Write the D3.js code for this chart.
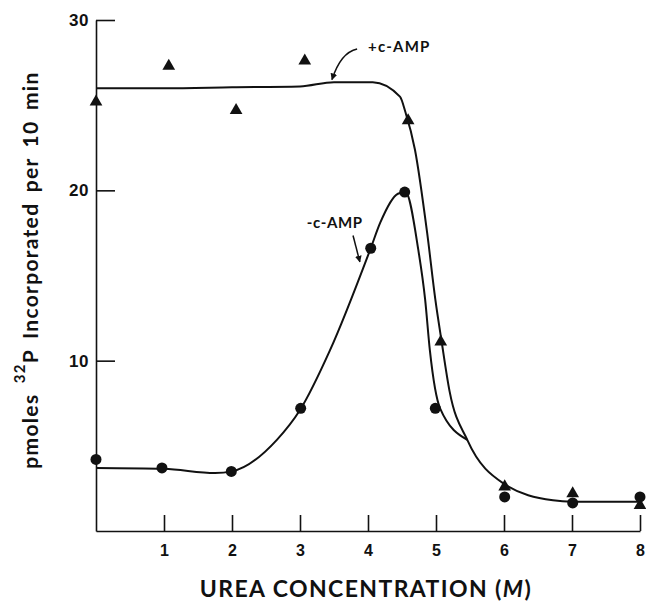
<!DOCTYPE html>
<html>
<head>
<meta charset="utf-8">
<script src="https://cdn.jsdelivr.net/npm/d3@7"></script>
<style>
  body { margin: 0; background: #fff; }
  svg { display: block; font-family: Lato, "DejaVu Sans", sans-serif; }
</style>
</head>
<body>
<div id="chart"></div>
<script>
// urea concentration (M) and pmoles 32P incorporated per 10 min
var plusX  = [0, 1.07, 2.06, 3.07, 4.59, 5.07, 6.01, 7.01, 8];
var plusY  = [25.2, 27.3, 24.7, 27.6, 24.1, 11.1, 2.6, 2.2, 1.5];
var minusX = [0, 0.97, 1.99, 3.01, 4.04, 4.54, 4.99, 6.01, 7.01, 8];
var minusY = [4.2, 3.7, 3.5, 7.2, 16.6, 19.9, 7.2, 2.0, 1.65, 2.0];

// hand drawn fitted curves
var plusFitX  = [0, 1, 2, 3, 3.5, 4.07, 4.47, 4.55, 4.69, 4.87, 4.99, 5.08, 5.2, 5.46, 5.99, 6.72, 7, 8];
var plusFitY  = [26.0, 26.0, 26.05, 26.1, 26.35, 26.35, 25.5, 24.6, 22.4, 17.5, 13.6, 11.2, 8.2, 5.35, 2.8, 1.8, 1.72, 1.72];
var minusFitX = [0, 1, 1.75, 2, 2.66, 3, 3.44, 4.04, 4.18, 4.44, 4.55, 4.74, 4.84, 4.91, 5.06, 5.46];
var minusFitY = [3.7, 3.65, 3.4, 3.5, 5.35, 7.1, 10.6, 16.6, 18.1, 19.8, 19.9, 16.5, 13.6, 10.6, 7.2, 5.35];

var xTicks = [1, 2, 3, 4, 5, 6, 7, 8];
var yTicks = [10, 20, 30];

var width = 646, height = 602;
var x0 = 96, x1 = 640, yTop = 20, yBase = 531;

var svg = d3.select("#chart").append("svg")
    .attr("width", width)
    .attr("height", height);

var x = d3.scaleLinear().domain([0, 8]).range([x0, x1]);
var y = d3.scaleLinear().domain([0, 30]).range([yBase, yTop]);

var ink = "#111";

// axes
var xAxis = d3.axisBottom(x).tickValues(xTicks).tickSizeInner(-16).tickSizeOuter(0).tickPadding(14);
var gx = svg.append("g")
    .attr("transform", "translate(0," + yBase + ")")
    .call(xAxis);
gx.select(".domain").attr("stroke", ink).attr("stroke-width", 1.6);
gx.selectAll(".tick line").attr("stroke", ink).attr("stroke-width", 1.6);
gx.selectAll(".tick text")
    .attr("fill", ink)
    .attr("font-size", 16)
    .attr("font-weight", 700);

var yAxis = d3.axisLeft(y).tickValues(yTicks).tickSizeInner(-19).tickSizeOuter(0).tickPadding(7);
var gy = svg.append("g")
    .attr("transform", "translate(" + x0 + ",0)")
    .call(yAxis);
gy.select(".domain").attr("stroke", ink).attr("stroke-width", 1.6);
gy.selectAll(".tick line").attr("stroke", ink).attr("stroke-width", 1.6);
gy.selectAll(".tick text")
    .attr("fill", ink)
    .attr("font-size", 17)
    .attr("font-weight", 700)
    .attr("letter-spacing", 0.5);

// fitted curves
var line = d3.line()
    .x(function(d) { return x(d[0]); })
    .y(function(d) { return y(d[1]); })
    .curve(d3.curveMonotoneX);

svg.append("path")
    .datum(d3.zip(plusFitX, plusFitY))
    .attr("d", line)
    .attr("fill", "none")
    .attr("stroke", ink)
    .attr("stroke-width", 2);

svg.append("path")
    .datum(d3.zip(minusFitX, minusFitY))
    .attr("d", line)
    .attr("fill", "none")
    .attr("stroke", ink)
    .attr("stroke-width", 2);

// points
svg.append("g").selectAll("path")
    .data(d3.zip(plusX, plusY))
    .enter().append("path")
    .attr("transform", function(d) { return "translate(" + x(d[0]) + "," + y(d[1]) + ")"; })
    .attr("d", d3.symbol(d3.symbolTriangle, 70))
    .attr("fill", ink);

svg.append("g").selectAll("circle")
    .data(d3.zip(minusX, minusY))
    .enter().append("circle")
    .attr("cx", function(d) { return x(d[0]); })
    .attr("cy", function(d) { return y(d[1]); })
    .attr("r", 5.5)
    .attr("fill", ink);

// annotations
var defs = svg.append("defs");
defs.append("marker")
    .attr("id", "head")
    .attr("viewBox", "0 0 10 10")
    .attr("refX", 9)
    .attr("refY", 5)
    .attr("markerWidth", 4.5)
    .attr("markerHeight", 4.5)
    .attr("orient", "auto")
    .append("path")
    .attr("d", "M0,0L10,5L0,10Z")
    .attr("fill", ink);

svg.append("text")
    .attr("x", x(4.0))
    .attr("y", y(28.1))
    .attr("font-size", 15)
    .attr("font-weight", 700)
    .attr("letter-spacing", 1.2)
    .attr("fill", ink)
    .text("+c-AMP");

svg.append("path")
    .attr("d", "M" + x(3.84) + "," + y(28.3) + "Q" + x(3.6) + "," + y(28.1) + " " + x(3.47) + "," + y(26.5))
    .attr("fill", "none")
    .attr("stroke", ink)
    .attr("stroke-width", 1.5)
    .attr("marker-end", "url(#head)");

svg.append("text")
    .attr("x", x(3.1))
    .attr("y", y(17.8))
    .attr("font-size", 15)
    .attr("font-weight", 700)
    .attr("letter-spacing", 0.6)
    .attr("fill", ink)
    .text("-c-AMP");

svg.append("path")
    .attr("d", "M" + x(3.78) + "," + y(17.35) + "L" + x(3.88) + "," + y(15.8))
    .attr("fill", "none")
    .attr("stroke", ink)
    .attr("stroke-width", 1.5)
    .attr("marker-end", "url(#head)");

// axis titles
var xt = svg.append("text")
    .attr("x", 366)
    .attr("y", 597)
    .attr("text-anchor", "middle")
    .attr("font-size", 23)
    .attr("font-weight", 700)
    .attr("letter-spacing", 1.4)
    .attr("fill", ink);
xt.append("tspan").text("UREA CONCENTRATION (");
xt.append("tspan").attr("font-style", "italic").text("M");
xt.append("tspan").text(")");

var yt = svg.append("text")
    .attr("transform", "translate(38,270) rotate(-90)")
    .attr("text-anchor", "middle")
    .attr("font-size", 21)
    .attr("font-weight", 700)
    .attr("letter-spacing", 1.3)
    .attr("word-spacing", 4)
    .attr("fill", ink);
yt.append("tspan").text("pmoles ");
yt.append("tspan").attr("font-size", 15).attr("dy", -13).text("32");
yt.append("tspan").attr("dy", 13).text("P Incorporated per 10 min");
</script>
</body>
</html>
